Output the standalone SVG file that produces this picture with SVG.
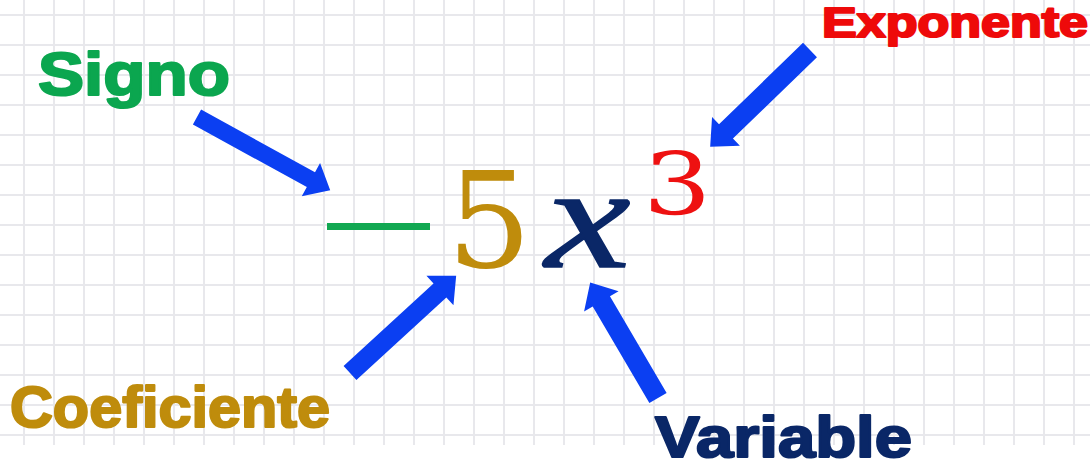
<svg xmlns="http://www.w3.org/2000/svg" width="1090" height="473" viewBox="0 0 1090 473">
  <style>
    .lbl { font-family: "Liberation Sans", Arial, sans-serif; font-weight: bold; stroke-width: 2.2; stroke-linejoin: round; }
    .math { font-family: "DejaVu Serif", "Liberation Serif", serif; }
    .arrow { fill: #0b3ff2; }
  </style>
  <defs>
    <pattern id="grid" x="9" y="0" width="30" height="30" patternUnits="userSpaceOnUse">
      <path d="M15 0V30M0 15H30" stroke="#e8e8ec" stroke-width="2" fill="none"/>
    </pattern>
  </defs>
  <rect width="1090" height="473" fill="#ffffff"/>
  <rect width="1090" height="445" fill="url(#grid)"/>

  <g id="connectors" class="arrow">
    <path d="M0 -8.5 L130 -8.5 L130 -19 L152 0 L130 19 L130 8.5 L0 8.5 Z" transform="translate(197 117) rotate(28.8)"/>
    <path d="M0 -9.5 L122 -9.5 L122 -20 L144 0 L122 20 L122 9.5 L0 9.5 Z" transform="translate(350 373) rotate(-42.5)"/>
    <path d="M0 -10 L112 -10 L112 -20 L134 0 L112 20 L112 10 L0 10 Z" transform="translate(658 398) rotate(-120.4)"/>
    <path d="M0 -10 L117 -10 L117 -20 L139 0 L117 20 L117 10 L0 10 Z" transform="translate(810 50) rotate(135.9)"/>
  </g>

  <g id="node-signo">
    <text class="lbl" x="38" y="95" font-size="62" textLength="192" lengthAdjust="spacingAndGlyphs" fill="#0ba64f" stroke="#0ba64f">Signo</text>
    <rect x="327" y="223" width="103" height="7" fill="#12a852"/>
  </g>
  <g id="node-coeficiente">
    <text class="lbl" x="10" y="427" font-size="58" textLength="320" lengthAdjust="spacingAndGlyphs" fill="#bf8c0c" stroke="#bf8c0c">Coeficiente</text>
    <text class="math" x="447" y="267" font-size="133" fill="#bf8c0c">5</text>
  </g>
  <g id="node-variable">
    <text class="lbl" x="655" y="457" font-size="58" textLength="257" lengthAdjust="spacingAndGlyphs" fill="#0a2767" stroke="#0a2767">Variable</text>
    <text transform="translate(545 267) scale(1.32 1)" x="0" y="0" font-family="Liberation Serif, serif" font-size="146" font-style="italic" fill="#0a2767" stroke="#0a2767" stroke-width="1.5">x</text>
  </g>
  <g id="node-exponente">
    <text class="lbl" x="822" y="37" font-size="42" textLength="266" lengthAdjust="spacingAndGlyphs" fill="#ee0a0a" stroke="#ee0a0a">Exponente</text>
    <text class="math" transform="translate(643 215) scale(1.25 1)" x="0" y="0" font-size="86" fill="#ee1111">3</text>
  </g>
</svg>
